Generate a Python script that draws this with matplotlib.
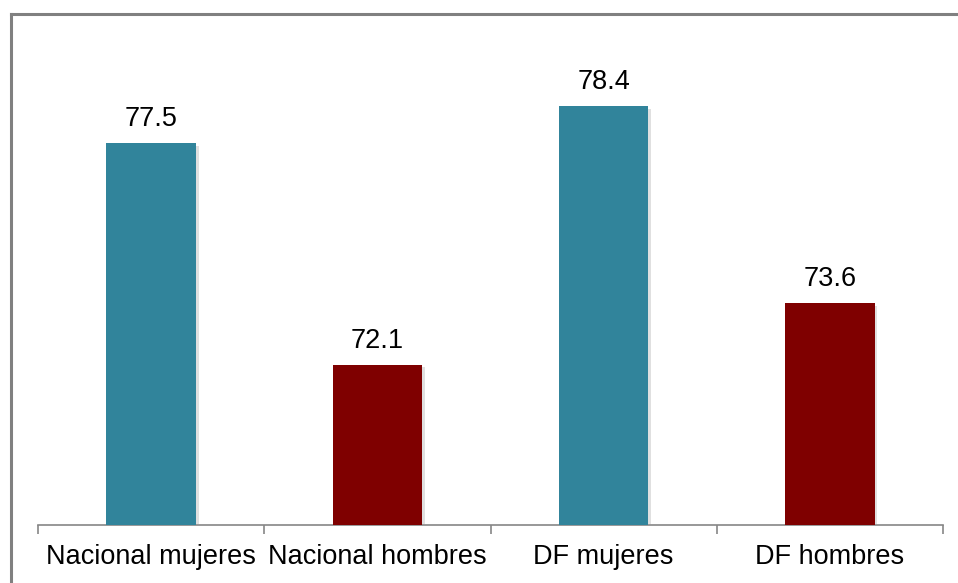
import matplotlib
matplotlib.use("Agg")
import matplotlib.pyplot as plt
from matplotlib.lines import Line2D
import matplotlib.patheffects as pe

categories = ["Nacional mujeres", "Nacional hombres", "DF mujeres", "DF hombres"]
values = [77.5, 72.1, 78.4, 73.6]
colors = ["#31849B", "#7F0000", "#31849B", "#7F0000"]

W, H = 958, 583
fig = plt.figure(figsize=(W / 100, H / 100), dpi=100)
plt.rcParams['font.family'] = ['Liberation Sans', 'DejaVu Sans']

ymin, ymax = 68.2, 80.0
px_per_unit = 41.1
base_px = 525
top_px = base_px - (ymax - ymin) * px_per_unit
left_px, right_px = 38, 943
ax = fig.add_axes([left_px / W, (H - base_px) / H, (right_px - left_px) / W, (base_px - top_px) / H])
ax.set_xlim(0, len(categories))
ax.set_ylim(ymin, ymax)

x = [i + 0.5 for i in range(len(categories))]
bars = ax.bar(x, values, width=0.395, color=colors, zorder=3,
              path_effects=[pe.SimplePatchShadow(offset=(2, -2), shadow_rgbFace='#999999', alpha=0.3), pe.Normal()])
for xi, v in zip(x, values):
    ax.annotate(f"{v:.1f}", (xi, v), xytext=(0, 8), textcoords="offset points",
                ha="center", va="bottom", fontsize=19.5, color="black")

for s in ["top", "right", "left"]:
    ax.spines[s].set_visible(False)
ax.spines["bottom"].set_color("#868686")
ax.spines["bottom"].set_linewidth(1.2)
ax.set_yticks([])
ax.set_xticks(range(len(categories) + 1))
ax.set_xticklabels([])
ax.tick_params(axis="x", length=6.5, width=1.2, color="#868686")
ax.set_xticks(x, minor=True)
ax.set_xticklabels(categories, minor=True, fontsize=19.5)
ax.tick_params(axis="x", which="minor", length=0, pad=14)

# outer chart frame (clipped at right and bottom)
fig.add_artist(Line2D([10.5 / W, 10.5 / W], [0, (H - 14) / H], color="#808080", linewidth=2.2, transform=fig.transFigure))
fig.add_artist(Line2D([10.5 / W, 1], [(H - 14) / H, (H - 14) / H], color="#808080", linewidth=2.2, transform=fig.transFigure))

fig.savefig("out.png", dpi=100)
